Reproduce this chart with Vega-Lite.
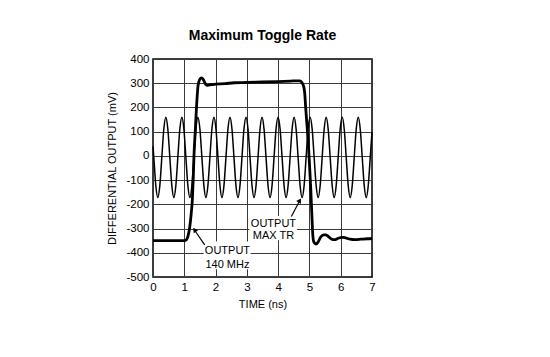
{
  "$schema": "https://vega.github.io/schema/vega-lite/v6.json",
  "width": 219,
  "height": 218,
  "autosize": "none",
  "padding": {"left": 153, "top": 59, "right": 178, "bottom": 80},
  "background": "white",
  "title": {"text": "Maximum Toggle Rate", "font": "Liberation Sans", "fontSize": 14, "fontWeight": "bold", "color": "#000", "anchor": "middle", "offset": 10},
  "config": {
    "view": {"stroke": "#000", "strokeWidth": 1.5},
    "axis": {"labelFont": "Liberation Sans", "labelFontSize": 11.5, "labelColor": "#000", "titleFont": "Liberation Sans", "titleFontSize": 11, "titleFontWeight": "normal", "titleColor": "#000", "grid": true, "gridColor": "#3a3a3a", "gridWidth": 1, "gridOpacity": 1, "domain": false, "ticks": false, "labelPadding": 4, "labelOverlap": false, "labelBound": false, "labelFlush": false, "tickCount": 30}
  },
  "datasets": {
    "sine": [
      {"t": 0, "v": 40}, {"t": 0.026, "v": -6}, {"t": 0.090, "v": -123}, {"t": 0.154, "v": -172}, {"t": 0.218, "v": -123}, {"t": 0.282, "v": -6}, {"t": 0.346, "v": 111},
      {"t": 0.410, "v": 160}, {"t": 0.474, "v": 111}, {"t": 0.538, "v": -6}, {"t": 0.602, "v": -123}, {"t": 0.666, "v": -172}, {"t": 0.730, "v": -123}, {"t": 0.794, "v": -6}, {"t": 0.858, "v": 111},
      {"t": 0.923, "v": 160}, {"t": 0.987, "v": 111}, {"t": 1.051, "v": -6}, {"t": 1.115, "v": -123}, {"t": 1.179, "v": -172}, {"t": 1.243, "v": -123}, {"t": 1.307, "v": -6}, {"t": 1.371, "v": 111},
      {"t": 1.435, "v": 160}, {"t": 1.499, "v": 111}, {"t": 1.563, "v": -6}, {"t": 1.627, "v": -123}, {"t": 1.691, "v": -172}, {"t": 1.755, "v": -123}, {"t": 1.819, "v": -6}, {"t": 1.883, "v": 111},
      {"t": 1.948, "v": 160}, {"t": 2.012, "v": 111}, {"t": 2.076, "v": -6}, {"t": 2.140, "v": -123}, {"t": 2.204, "v": -172}, {"t": 2.268, "v": -123}, {"t": 2.332, "v": -6}, {"t": 2.396, "v": 111},
      {"t": 2.460, "v": 160}, {"t": 2.524, "v": 111}, {"t": 2.588, "v": -6}, {"t": 2.652, "v": -123}, {"t": 2.716, "v": -172}, {"t": 2.780, "v": -123}, {"t": 2.844, "v": -6}, {"t": 2.908, "v": 111},
      {"t": 2.973, "v": 160}, {"t": 3.037, "v": 111}, {"t": 3.101, "v": -6}, {"t": 3.165, "v": -123}, {"t": 3.229, "v": -172}, {"t": 3.293, "v": -123}, {"t": 3.357, "v": -6}, {"t": 3.421, "v": 111},
      {"t": 3.485, "v": 160}, {"t": 3.549, "v": 111}, {"t": 3.613, "v": -6}, {"t": 3.677, "v": -123}, {"t": 3.741, "v": -172}, {"t": 3.805, "v": -123}, {"t": 3.869, "v": -6}, {"t": 3.933, "v": 111},
      {"t": 3.998, "v": 160}, {"t": 4.062, "v": 111}, {"t": 4.126, "v": -6}, {"t": 4.190, "v": -123}, {"t": 4.254, "v": -172}, {"t": 4.318, "v": -123}, {"t": 4.382, "v": -6}, {"t": 4.446, "v": 111},
      {"t": 4.510, "v": 160}, {"t": 4.574, "v": 111}, {"t": 4.638, "v": -6}, {"t": 4.702, "v": -123}, {"t": 4.766, "v": -172}, {"t": 4.830, "v": -123}, {"t": 4.894, "v": -6}, {"t": 4.958, "v": 111},
      {"t": 5.023, "v": 160}, {"t": 5.087, "v": 111}, {"t": 5.151, "v": -6}, {"t": 5.215, "v": -123}, {"t": 5.279, "v": -172}, {"t": 5.343, "v": -123}, {"t": 5.407, "v": -6}, {"t": 5.471, "v": 111},
      {"t": 5.535, "v": 160}, {"t": 5.599, "v": 111}, {"t": 5.663, "v": -6}, {"t": 5.727, "v": -123}, {"t": 5.791, "v": -172}, {"t": 5.855, "v": -123}, {"t": 5.919, "v": -6}, {"t": 5.983, "v": 111},
      {"t": 6.048, "v": 160}, {"t": 6.112, "v": 111}, {"t": 6.176, "v": -6}, {"t": 6.240, "v": -123}, {"t": 6.304, "v": -172}, {"t": 6.368, "v": -123}, {"t": 6.432, "v": -6}, {"t": 6.496, "v": 111},
      {"t": 6.560, "v": 160}, {"t": 6.624, "v": 111}, {"t": 6.688, "v": -6}, {"t": 6.752, "v": -123}, {"t": 6.816, "v": -172}, {"t": 6.880, "v": -123}, {"t": 6.944, "v": -6}, {"t": 7.0, "v": 99}
    ],
    "output": [
      {"t": 0, "v": -350}, {"t": 0.5, "v": -350}, {"t": 1.0, "v": -350}, {"t": 1.07, "v": -346}, {"t": 1.12, "v": -330}, {"t": 1.17, "v": -298}, {"t": 1.22, "v": -240}, {"t": 1.26, "v": -176}, {"t": 1.29, "v": -80}, {"t": 1.31, "v": 0}, {"t": 1.35, "v": 100}, {"t": 1.39, "v": 200}, {"t": 1.44, "v": 290}, {"t": 1.49, "v": 315}, {"t": 1.55, "v": 322}, {"t": 1.61, "v": 315}, {"t": 1.68, "v": 296}, {"t": 1.75, "v": 291}, {"t": 1.85, "v": 294}, {"t": 2.0, "v": 296}, {"t": 2.3, "v": 298}, {"t": 2.6, "v": 302}, {"t": 3.0, "v": 303}, {"t": 3.5, "v": 305}, {"t": 4.0, "v": 307}, {"t": 4.4, "v": 309}, {"t": 4.69, "v": 310}, {"t": 4.76, "v": 303}, {"t": 4.82, "v": 285}, {"t": 4.85, "v": 258}, {"t": 4.88, "v": 200}, {"t": 4.92, "v": 130}, {"t": 4.96, "v": 60}, {"t": 5.0, "v": -30}, {"t": 5.04, "v": -130}, {"t": 5.08, "v": -250}, {"t": 5.11, "v": -330}, {"t": 5.15, "v": -358}, {"t": 5.21, "v": -364}, {"t": 5.28, "v": -355}, {"t": 5.36, "v": -335}, {"t": 5.45, "v": -326}, {"t": 5.52, "v": -326}, {"t": 5.6, "v": -332}, {"t": 5.7, "v": -343}, {"t": 5.8, "v": -346}, {"t": 5.92, "v": -340}, {"t": 6.05, "v": -336}, {"t": 6.15, "v": -338}, {"t": 6.3, "v": -344}, {"t": 6.45, "v": -346}, {"t": 6.65, "v": -344}, {"t": 6.85, "v": -342}, {"t": 7.0, "v": -341}
    ],
    "boxes": [
      {"t": 1.62, "t2": 3.12, "v": -353, "v2": -468},
      {"t": 3.08, "t2": 4.6, "v": -248, "v2": -348}
    ],
    "arrows": [
      {"t": 1.652, "v": -367, "t2": 1.352, "v2": -311, "ht": 1.33, "hv": -305, "ang": 325},
      {"t": 4.423, "v": -250, "t2": 4.676, "v2": -188, "ht": 4.69, "hv": -184, "ang": 31}
    ],
    "labels": [
      {"t": 2.38, "v": -394, "label": "OUTPUT"},
      {"t": 2.38, "v": -449, "label": "140 MHz"},
      {"t": 3.85, "v": -280, "label": "OUTPUT"},
      {"t": 3.85, "v": -332, "label": "MAX TR"}
    ]
  },
  "layer": [
    {
      "data": {"name": "boxes"},
      "mark": {"type": "rect", "fill": "white", "opacity": 1, "fillOpacity": 1},
      "encoding": {
        "x": {"field": "t", "type": "quantitative", "scale": {"domain": [0, 7], "nice": false}, "axis": {"values": [0, 1, 2, 3, 4, 5, 6, 7], "format": "d", "title": "TIME (ns)", "titlePadding": 6}},
        "x2": {"field": "t2"},
        "y": {"field": "v", "type": "quantitative", "scale": {"domain": [-500, 400], "nice": false}, "axis": {"values": [-500, -400, -300, -200, -100, 0, 100, 200, 300, 400], "format": "d", "title": "DIFFERENTIAL OUTPUT (mV)", "titlePadding": 8, "labelExpr": "replace(datum.label, '\u2212', '-')"}},
        "y2": {"field": "v2"}
      }
    },
    {
      "data": {"name": "sine"},
      "mark": {"type": "line", "color": "#000", "strokeWidth": 1.5, "interpolate": "monotone"},
      "encoding": {
        "x": {"field": "t", "type": "quantitative"},
        "y": {"field": "v", "type": "quantitative"}
      }
    },
    {
      "data": {"name": "output"},
      "mark": {"type": "line", "color": "#000", "strokeWidth": 2.8, "interpolate": "monotone"},
      "encoding": {
        "x": {"field": "t", "type": "quantitative"},
        "y": {"field": "v", "type": "quantitative"}
      }
    },
    {
      "data": {"name": "arrows"},
      "mark": {"type": "rule", "color": "#000", "strokeWidth": 1.2},
      "encoding": {
        "x": {"field": "t", "type": "quantitative"},
        "y": {"field": "v", "type": "quantitative"},
        "x2": {"field": "t2"},
        "y2": {"field": "v2"}
      }
    },
    {
      "data": {"name": "arrows"},
      "mark": {"type": "point", "shape": "triangle-up", "filled": true, "color": "#000", "size": 30, "opacity": 1},
      "encoding": {
        "x": {"field": "ht", "type": "quantitative"},
        "y": {"field": "hv", "type": "quantitative"},
        "angle": {"field": "ang", "type": "quantitative", "scale": null}
      }
    },
    {
      "data": {"name": "labels"},
      "mark": {"type": "text", "font": "Liberation Sans", "fontSize": 11, "color": "#000", "align": "center", "baseline": "middle"},
      "encoding": {
        "x": {"field": "t", "type": "quantitative"},
        "y": {"field": "v", "type": "quantitative"},
        "text": {"field": "label"}
      }
    }
  ]
}
